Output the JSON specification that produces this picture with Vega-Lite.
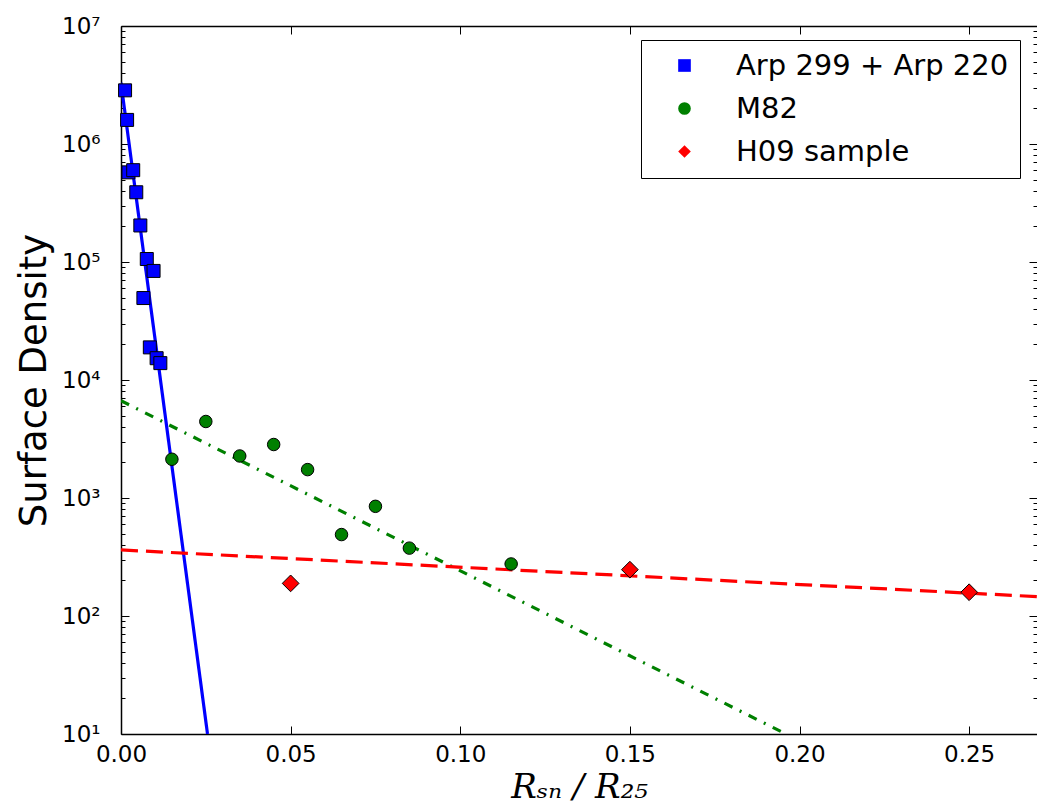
{
  "$schema": "https://vega.github.io/schema/vega-lite/v6.json",
  "width": 916,
  "height": 708,
  "autosize": "none",
  "padding": {"left": 121, "top": 26, "right": 0, "bottom": 75},
  "background": "white",
  "config": {
    "font": "DejaVu Sans",
    "view": {"stroke": null},
    "axis": {"grid": false, "domainColor": "black", "tickColor": "black", "labelColor": "black", "titleColor": "black", "tickWidth": 1, "domainWidth": 1.5, "labelFlush": false, "labelOverlap": false, "labelBound": false},
    "legend": {"strokeColor": "black", "fillColor": "white", "padding": 11, "symbolOffset": 18, "labelOffset": 37, "rowPadding": 13, "labelFontSize": 29, "labelFont": "DejaVu Sans", "labelColor": "black", "symbolSize": 160, "symbolStrokeColor": "black", "symbolStrokeWidth": 1, "labelLimit": 400}
  },
  "datasets": {
    "points": [
      {"series": "Arp 299 + Arp 220", "x": 0.0012, "y": 2850000},
      {"series": "Arp 299 + Arp 220", "x": 0.0018, "y": 1600000},
      {"series": "Arp 299 + Arp 220", "x": 0.0022, "y": 575000},
      {"series": "Arp 299 + Arp 220", "x": 0.0036, "y": 600000},
      {"series": "Arp 299 + Arp 220", "x": 0.0045, "y": 390000},
      {"series": "Arp 299 + Arp 220", "x": 0.0057, "y": 204000},
      {"series": "Arp 299 + Arp 220", "x": 0.0076, "y": 106000},
      {"series": "Arp 299 + Arp 220", "x": 0.0096, "y": 84000},
      {"series": "Arp 299 + Arp 220", "x": 0.0066, "y": 49500},
      {"series": "Arp 299 + Arp 220", "x": 0.0085, "y": 18900},
      {"series": "Arp 299 + Arp 220", "x": 0.0105, "y": 15300},
      {"series": "Arp 299 + Arp 220", "x": 0.0116, "y": 13900},
      {"series": "M82", "x": 0.015, "y": 2130},
      {"series": "M82", "x": 0.025, "y": 4450},
      {"series": "M82", "x": 0.035, "y": 2270},
      {"series": "M82", "x": 0.045, "y": 2840},
      {"series": "M82", "x": 0.055, "y": 1740},
      {"series": "M82", "x": 0.065, "y": 490},
      {"series": "M82", "x": 0.075, "y": 850},
      {"series": "M82", "x": 0.085, "y": 376},
      {"series": "M82", "x": 0.115, "y": 276},
      {"series": "H09 sample", "x": 0.05, "y": 189},
      {"series": "H09 sample", "x": 0.15, "y": 247},
      {"series": "H09 sample", "x": 0.25, "y": 159}
    ],
    "fits": [
      {"fit": "arp", "x": 0, "y": 3300000},
      {"fit": "arp", "x": 0.0255, "y": 10},
      {"fit": "m82", "x": 0, "y": 6670},
      {"fit": "m82", "x": 0.196, "y": 10},
      {"fit": "h09", "x": 0, "y": 363},
      {"fit": "h09", "x": 0.27, "y": 146}
    ]
  },
  "layer": [
    {
      "data": {"name": "fits"},
      "mark": {"type": "line", "strokeWidth": 3.2, "clip": true},
      "encoding": {
        "x": {"field": "x", "type": "quantitative", "scale": {"domain": [0, 0.27], "nice": false, "zero": false},
          "axis": {"orient": "bottom", "values": [0, 0.05, 0.1, 0.15, 0.2, 0.25], "format": ".2f", "labelFontSize": 23, "tickSize": -8, "labelPadding": 17,
            "title": "Rₛₙ / R₂₅", "titleFont": "DejaVu Serif", "titleFontStyle": "italic", "titleFontSize": 34, "titleFontWeight": "normal", "titlePadding": 4}},
        "y": {"field": "y", "type": "quantitative", "scale": {"type": "log", "domain": [10, 10000000], "nice": false},
          "axis": {"orient": "left", "values": [10, 100, 1000, 10000, 100000, 1000000, 10000000],
            "labelExpr": "'10' + ['⁰','¹','²','³','⁴','⁵','⁶','⁷'][round(log(datum.value)/LN10)]",
            "labelFontSize": 23, "tickSize": -8, "labelPadding": 29,
            "title": "Surface Density", "titleFontSize": 37, "titleFontWeight": "normal", "titlePadding": 8}},
        "stroke": {"field": "fit", "type": "nominal", "scale": {"domain": ["arp", "m82", "h09"], "range": ["#0000ff", "#008000", "#ff0000"]}, "legend": null},
        "strokeDash": {"field": "fit", "type": "nominal", "scale": {"domain": ["arp", "m82", "h09"], "range": [[1, 0], [9, 8, 2, 8], [17, 8]]}, "legend": null}
      }
    },
    {
      "data": {"name": "points"},
      "transform": [{"filter": "datum.series === 'Arp 299 + Arp 220'"}],
      "mark": {"type": "point", "filled": true, "stroke": "black", "strokeWidth": 1, "opacity": 1, "size": 169},
      "encoding": {
        "x": {"field": "x", "type": "quantitative", "scale": {"domain": [0, 0.27], "nice": false, "zero": false},
          "axis": {"orient": "top", "values": [0, 0.05, 0.1, 0.15, 0.2, 0.25], "labels": false, "tickSize": -8, "title": null}},
        "y": {"field": "y", "type": "quantitative", "scale": {"type": "log", "domain": [10, 10000000], "nice": false},
          "axis": {"orient": "right", "values": [10, 100, 1000, 10000, 100000, 1000000, 10000000], "labels": false, "tickSize": -8, "domain": false, "title": null}},
        "fill": {"field": "series", "type": "nominal", "scale": {"domain": ["Arp 299 + Arp 220", "M82", "H09 sample"], "range": ["#0000ff", "#008000", "#ff0000"]},
          "legend": {"title": null, "orient": "none", "legendX": 520, "legendY": 14, "encode": {"symbols": {"update": {"stroke": {"value": "black"}, "strokeWidth": {"value": 1}}}}}},
        "shape": {"field": "series", "type": "nominal", "scale": {"domain": ["Arp 299 + Arp 220", "M82", "H09 sample"], "range": ["square", "circle", "diamond"]},
          "legend": {"title": null, "orient": "none", "legendX": 520, "legendY": 14, "encode": {"symbols": {"update": {"stroke": {"value": "black"}, "strokeWidth": {"value": 1}}}}}}
      }
    },
    {
      "data": {"name": "points"},
      "transform": [{"filter": "datum.series === 'M82'"}],
      "mark": {"type": "point", "filled": true, "stroke": "black", "strokeWidth": 1, "opacity": 1, "size": 156},
      "encoding": {
        "x": {"field": "x", "type": "quantitative", "scale": {"domain": [0, 0.27], "nice": false, "zero": false}, "axis": null},
        "y": {"field": "y", "type": "quantitative", "scale": {"type": "log", "domain": [10, 10000000], "nice": false}, "axis": null},
        "fill": {"field": "series", "type": "nominal", "scale": {"domain": ["Arp 299 + Arp 220", "M82", "H09 sample"], "range": ["#0000ff", "#008000", "#ff0000"]},
          "legend": {"title": null, "orient": "none", "legendX": 520, "legendY": 14, "encode": {"symbols": {"update": {"stroke": {"value": "black"}, "strokeWidth": {"value": 1}}}}}},
        "shape": {"field": "series", "type": "nominal", "scale": {"domain": ["Arp 299 + Arp 220", "M82", "H09 sample"], "range": ["square", "circle", "diamond"]},
          "legend": {"title": null, "orient": "none", "legendX": 520, "legendY": 14, "encode": {"symbols": {"update": {"stroke": {"value": "black"}, "strokeWidth": {"value": 1}}}}}}
      }
    },
    {
      "data": {"name": "points"},
      "transform": [{"filter": "datum.series === 'H09 sample'"}],
      "mark": {"type": "point", "filled": true, "stroke": "black", "strokeWidth": 1, "opacity": 1, "size": 280},
      "encoding": {
        "x": {"field": "x", "type": "quantitative", "scale": {"domain": [0, 0.27], "nice": false, "zero": false}, "axis": null},
        "y": {"field": "y", "type": "quantitative", "scale": {"type": "log", "domain": [10, 10000000], "nice": false}, "axis": null},
        "fill": {"field": "series", "type": "nominal", "scale": {"domain": ["Arp 299 + Arp 220", "M82", "H09 sample"], "range": ["#0000ff", "#008000", "#ff0000"]},
          "legend": {"title": null, "orient": "none", "legendX": 520, "legendY": 14, "encode": {"symbols": {"update": {"stroke": {"value": "black"}, "strokeWidth": {"value": 1}}}}}},
        "shape": {"field": "series", "type": "nominal", "scale": {"domain": ["Arp 299 + Arp 220", "M82", "H09 sample"], "range": ["square", "circle", "diamond"]},
          "legend": {"title": null, "orient": "none", "legendX": 520, "legendY": 14, "encode": {"symbols": {"update": {"stroke": {"value": "black"}, "strokeWidth": {"value": 1}}}}}}
      }
    },
    {
      "data": {"name": "points"},
      "mark": {"type": "point", "opacity": 0},
      "encoding": {
        "x": {"field": "x", "type": "quantitative", "scale": {"domain": [0, 0.27], "nice": false, "zero": false}, "axis": null},
        "y": {"field": "y", "type": "quantitative", "scale": {"type": "log", "domain": [10, 10000000], "nice": false},
          "axis": {"orient": "left", "values": [20, 30, 40, 50, 60, 70, 80, 90, 200, 300, 400, 500, 600, 700, 800, 900, 2000, 3000, 4000, 5000, 6000, 7000, 8000, 9000, 20000, 30000, 40000, 50000, 60000, 70000, 80000, 90000, 200000, 300000, 400000, 500000, 600000, 700000, 800000, 900000, 2000000, 3000000, 4000000, 5000000, 6000000, 7000000, 8000000, 9000000], "labels": false, "tickSize": -4, "domain": false, "title": null}}
      }
    },
    {
      "data": {"name": "points"},
      "mark": {"type": "point", "opacity": 0},
      "encoding": {
        "x": {"field": "x", "type": "quantitative", "scale": {"domain": [0, 0.27], "nice": false, "zero": false}, "axis": null},
        "y": {"field": "y", "type": "quantitative", "scale": {"type": "log", "domain": [10, 10000000], "nice": false},
          "axis": {"orient": "right", "values": [20, 30, 40, 50, 60, 70, 80, 90, 200, 300, 400, 500, 600, 700, 800, 900, 2000, 3000, 4000, 5000, 6000, 7000, 8000, 9000, 20000, 30000, 40000, 50000, 60000, 70000, 80000, 90000, 200000, 300000, 400000, 500000, 600000, 700000, 800000, 900000, 2000000, 3000000, 4000000, 5000000, 6000000, 7000000, 8000000, 9000000], "labels": false, "tickSize": -4, "domain": false, "title": null}}
      }
    }
  ],
  "resolve": {"axis": {"x": "independent", "y": "independent"}}
}
